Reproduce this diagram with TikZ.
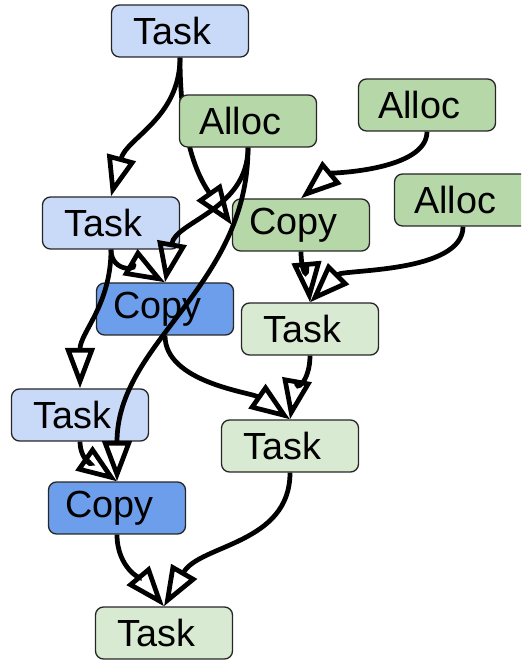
\documentclass[tikz,border=0pt]{standalone}
\usepackage{fontspec}
\setmainfont{Liberation Sans}
\usetikzlibrary{arrows.meta,backgrounds}
\definecolor{taskblue}{HTML}{C9DAF8}
\definecolor{copyblue}{HTML}{6D9EEB}
\definecolor{allocgreen}{HTML}{B6D7A8}
\definecolor{taskgreen}{HTML}{D9EAD3}

\begin{document}
\begin{tikzpicture}[x=0.02cm, y=0.02cm]
    \tikzstyle{box} = [rectangle, rounded corners=0.16cm, draw=black!85, line width=0.75pt, minimum width=2.74cm, minimum height=1.04cm, font=\fontsize{21.5}{24}\selectfont, execute at end node=\hspace*{9pt}]
    \tikzstyle{hosttask} = [box, fill=taskblue]
    \tikzstyle{hostcopy} = [box, fill=copyblue]
    \tikzstyle{alloc} = [box, fill=allocgreen]
    \tikzstyle{devtask} = [box, fill=taskgreen]
    \tikzstyle{flow} = [line width=2.7pt, -{Triangle[open, length=23pt, width=16.5pt]}]

    \clip (0,0) rectangle (521,661);

    \node [hosttask] (t1) at (180,630) {Task};
    \node [alloc] (a1) at (248,540) {Alloc};
    \node [alloc] (a2) at (427,556) {Alloc};
    \node [alloc] (a3) at (463,461) {Alloc};
    \node [hosttask] (t2) at (111,438) {Task};
    \node [alloc] (c1) at (301,436) {Copy};
    \node [hostcopy] (c2) at (165,352) {Copy};
    \node [devtask] (t3) at (310,332) {Task};
    \node [hosttask] (t4) at (80,246) {Task};
    \node [devtask] (t5) at (290,215) {Task};
    \node [hostcopy] (c3) at (117,153) {Copy};
    \node [devtask] (t6) at (164,28) {Task};

    \begin{scope}[on background layer]
        \draw [flow] (t1.south) to[out=-90, in=125] (c1.west);
    \end{scope}
    \draw [flow] (t1.south) to[out=-90, in=75] (t2.north);
    \draw [flow] (a1.south) to[out=-90, in=80] (c2.north);
    \draw [flow] (a1.south) to[out=-90, in=90] (c3.north);
    \draw [flow] (a2.south) to[out=-90, in=40, looseness=0.7] (c1.north);
    \draw [flow] (a3.south) to[out=-90, in=45, looseness=0.7] (t3.north);
    \draw [flow] (c1.south) to[out=-90, in=95] (t3.north);
    \draw [flow] (t2.south) to[out=-90, in=150] (c2.north);
    \draw [flow] (t2.south) to[out=-90, in=90] (t4.north);
    \draw [flow] (c2.south) to[out=-90, in=145, looseness=0.8] (t5.north);
    \draw [flow] (t3.south) to[out=-90, in=80] (t5.north);
    \draw [flow] (t4.south) to[out=-90, in=145] (c3.north);
    \draw [flow] (c3.south) to[out=-90, in=130] (t6.north);
    \draw [flow] (t5.south) to[out=-90, in=60] (t6.north);
\end{tikzpicture}
\end{document}
